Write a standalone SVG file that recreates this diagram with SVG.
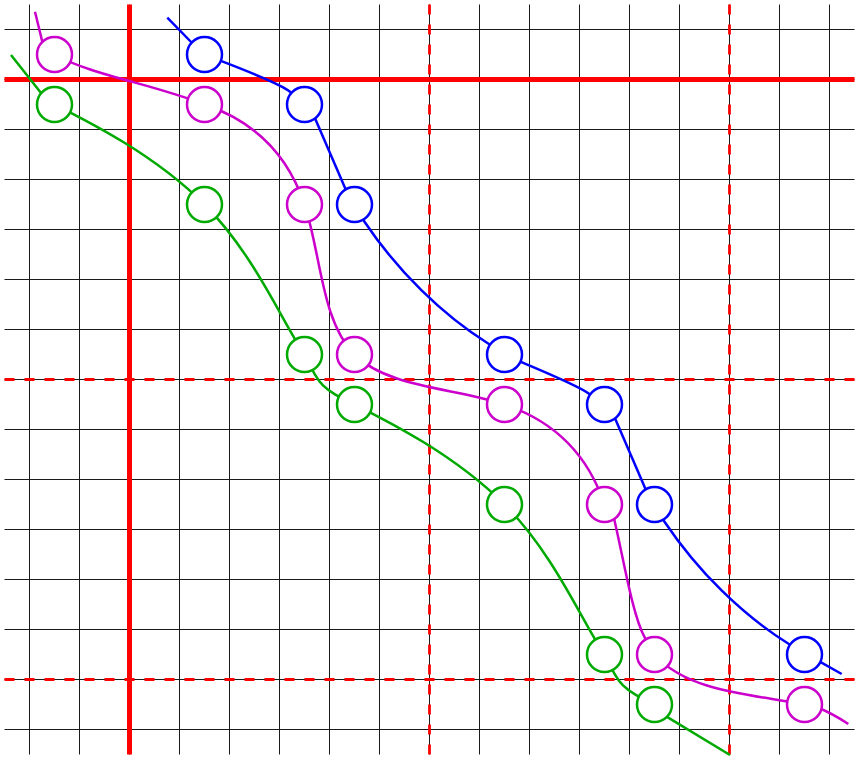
<svg xmlns="http://www.w3.org/2000/svg" xmlns:xlink="http://www.w3.org/1999/xlink" width="860" height="760" viewBox="0 0 860 760">
<style>
.grid{stroke:#1a1a1a;stroke-width:1;fill:none}
.rthick{stroke:#ff0000;stroke-width:5;fill:none}
.rdash{stroke:#ff0000;stroke-width:2.8;stroke-dasharray:10 10;fill:none}
.c{fill:none;stroke-width:2.5;stroke-linejoin:round}
.blue{stroke:#0000ff}
.mag{stroke:#cc00cc}
.grn{stroke:#00aa00}
.node{fill:#ffffff;stroke-width:2.5}
</style>
<defs>
<path id="bA1" d="M13.6,5.4 L18.3,7.2 C44.3,17.2 76,29.5 85.5,37.2 L89.4,40.35"/>
<path id="bA2" d="M13.6,6.24 L18.2,8.2 C41.2,18 73.3,31.2 83.8,38.8 L87.85,41.73"/>
<path id="bB" d="M9.4,11.2 L42.4,87.7"/>
<path id="bC" d="M7.2,13.05 L10,17.2 C43.5,66.9 87.4,110.2 134,139.3 L138.2,141.95"/>
<path id="mA1" d="M0,0 C35,20 100,30 150,50"/>
<path id="mA2" d="M0,0 C33.3,33.3 100,33.3 150,50"/>
<path id="mA3" d="M0,0 C33.3,38 100,40 150,50"/>
<path id="mB" d="M0,0 C50,16.7 83.3,50 100,100"/>
<path id="mC1" d="M0,0 C16.7,50 16.7,116.7 50,150"/>
<path id="mC2" d="M9.15,12.36 L10.5,18.2 C19.5,57.2 28.1,110.1 39.8,132.2 L42.6,137.5"/>
<path id="gA" d="M0,0 C33.3,16.7 100,50 150,100"/>
<path id="gB" d="M0,0 C50,50 78,118 100,150"/>
<path id="gC" d="M0,0 C16.7,33.3 16.7,33.3 50,50"/>
</defs>
<rect width="860" height="760" fill="#ffffff"/>
<g id="grid">
<path class="grid" d="M29.5,4.5V754.5M79.5,4.5V754.5M129.5,4.5V754.5M179.5,4.5V754.5M229.5,4.5V754.5M279.5,4.5V754.5M329.5,4.5V754.5M379.5,4.5V754.5M429.5,4.5V754.5M479.5,4.5V754.5M529.5,4.5V754.5M579.5,4.5V754.5M629.5,4.5V754.5M679.5,4.5V754.5M729.5,4.5V754.5M779.5,4.5V754.5M829.5,4.5V754.5"/>
<path class="grid" d="M4.5,29.5H854.5M4.5,79.5H854.5M4.5,129.5H854.5M4.5,179.5H854.5M4.5,229.5H854.5M4.5,279.5H854.5M4.5,329.5H854.5M4.5,379.5H854.5M4.5,429.5H854.5M4.5,479.5H854.5M4.5,529.5H854.5M4.5,579.5H854.5M4.5,629.5H854.5M4.5,679.5H854.5M4.5,729.5H854.5"/>
</g>
<g id="red-lines">
<path class="rdash" d="M429.5,4.5V754.5M729.5,4.5V754.5M4.5,379.5H854.5M4.5,679.5H854.5"/>
<path class="rthick" d="M129.5,4.5V754.5M4.5,79.5H854.5"/>
</g>
<g id="connectors">
<g class="c blue">
<path d="M167.3,17.7 L195,46"/>
<use href="#bA1" x="204.5" y="54.5"/>
<use href="#bB" x="304.5" y="104.5"/>
<use href="#bC" x="354.5" y="204.5"/>
<use href="#bA2" x="504.5" y="354.5"/>
<use href="#bB" x="604.5" y="404.5"/>
<use href="#bC" x="654.5" y="504.5"/>
<path d="M817.5,660.4 L841.7,674"/>
</g>
<g class="c mag">
<path d="M35,11.7 L43.2,45.5"/>
<use href="#mA1" x="54.5" y="54.5"/>
<use href="#mB" x="204.5" y="104.5"/>
<use href="#mC1" x="304.5" y="204.5"/>
<use href="#mA2" x="354.5" y="354.5"/>
<use href="#mB" x="504.5" y="404.5"/>
<use href="#mC2" x="604.5" y="504.5"/>
<use href="#mA3" x="654.5" y="654.5"/>
<path d="M816.5,707 C826.5,711 838.5,717.5 848.3,724"/>
</g>
<g class="c grn">
<path d="M11,55 L43.24,95.82"/>
<use href="#gA" x="54.5" y="104.5"/>
<use href="#gB" x="204.5" y="204.5"/>
<use href="#gC" x="304.5" y="354.5"/>
<use href="#gA" x="354.5" y="404.5"/>
<use href="#gB" x="504.5" y="504.5"/>
<use href="#gC" x="604.5" y="654.5"/>
<path d="M664.9,715.6 L730,755"/>
</g>
</g>
<g id="nodes">
<g id="b1"><circle class="node blue" cx="204.5" cy="54.5" r="17.5"/></g>
<g id="b2"><circle class="node blue" cx="304.5" cy="104.5" r="17.5"/></g>
<g id="b3"><circle class="node blue" cx="354.5" cy="204.5" r="17.5"/></g>
<g id="b4"><circle class="node blue" cx="504.5" cy="354.5" r="17.5"/></g>
<g id="b5"><circle class="node blue" cx="604.5" cy="404.5" r="17.5"/></g>
<g id="b6"><circle class="node blue" cx="654.5" cy="504.5" r="17.5"/></g>
<g id="b7"><circle class="node blue" cx="804.5" cy="654.5" r="17.5"/></g>
<g id="m1"><circle class="node mag" cx="54.5" cy="54.5" r="17.5"/></g>
<g id="m2"><circle class="node mag" cx="204.5" cy="104.5" r="17.5"/></g>
<g id="m3"><circle class="node mag" cx="304.5" cy="204.5" r="17.5"/></g>
<g id="m4"><circle class="node mag" cx="354.5" cy="354.5" r="17.5"/></g>
<g id="m5"><circle class="node mag" cx="504.5" cy="404.5" r="17.5"/></g>
<g id="m6"><circle class="node mag" cx="604.5" cy="504.5" r="17.5"/></g>
<g id="m7"><circle class="node mag" cx="654.5" cy="654.5" r="17.5"/></g>
<g id="m8"><circle class="node mag" cx="804.5" cy="704.5" r="17.5"/></g>
<g id="g1"><circle class="node grn" cx="54.5" cy="104.5" r="17.5"/></g>
<g id="g2"><circle class="node grn" cx="204.5" cy="204.5" r="17.5"/></g>
<g id="g3"><circle class="node grn" cx="304.5" cy="354.5" r="17.5"/></g>
<g id="g4"><circle class="node grn" cx="354.5" cy="404.5" r="17.5"/></g>
<g id="g5"><circle class="node grn" cx="504.5" cy="504.5" r="17.5"/></g>
<g id="g6"><circle class="node grn" cx="604.5" cy="654.5" r="17.5"/></g>
<g id="g7"><circle class="node grn" cx="654.5" cy="704.5" r="17.5"/></g>
</g>
</svg>
